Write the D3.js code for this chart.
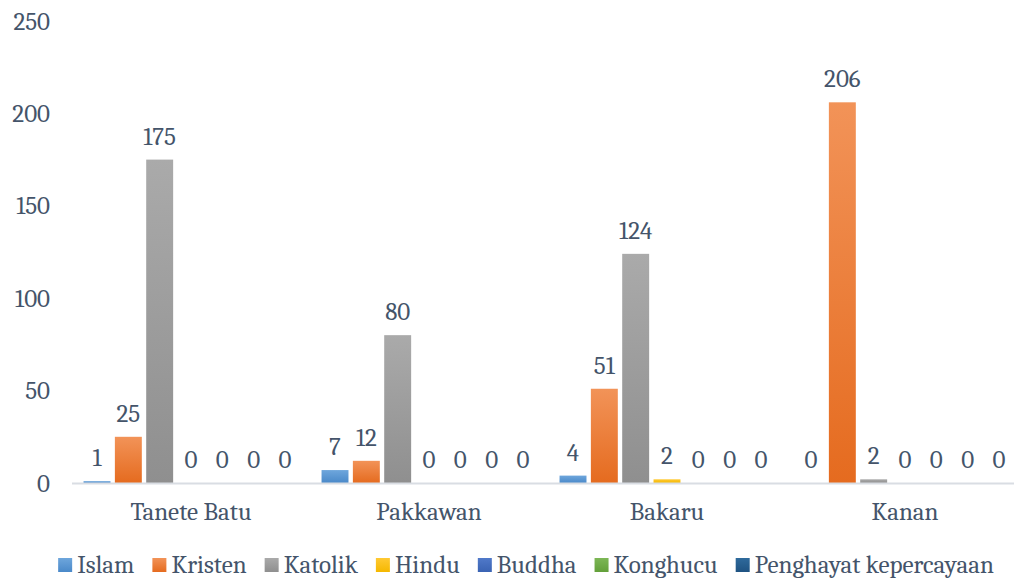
<!DOCTYPE html>
<html><head><meta charset="utf-8">
<script src="https://cdn.jsdelivr.net/npm/d3@7"></script>
<style>body{margin:0;background:#fff}svg{display:block}</style>
</head><body><svg id="c" width="1014" height="578"></svg>
<script>
const categories = ["Tanete Batu","Pakkawan","Bakaru","Kanan"];
const seriesNames = ["Islam","Kristen","Katolik","Hindu","Buddha","Konghucu","Penghayat kepercayaan"];
const islam = [1,7,4,0];
const kristen = [25,12,51,206];
const katolik = [175,80,124,2];
const hindu = [0,0,2,0];
const buddha = [0,0,0,0];
const konghucu = [0,0,0,0];
const penghayat = [0,0,0,0];
const yTicks = [0,50,100,150,200,250];
const seriesValues = [islam,kristen,katolik,hindu,buddha,konghucu,penghayat];
const colors = [["#6ea6dc","#4a89c9"],["#f29358","#e56b1f"],["#aaaaaa","#8f8f8f"],["#ffc933","#f5b800"],["#5079c9","#3a63b3"],["#7db756","#63a03a"],["#2f6a9c","#1f5382"]];
const FONT = 'Caladea, Cambria, "Liberation Serif", serif';
const FS = "25px";
const TC = "#44546A";

const svg = d3.select("#c");
const defs = svg.append("defs");
colors.forEach((c,i)=>{
  const g = defs.append("linearGradient").attr("id","g"+i).attr("x1",0).attr("y1",0).attr("x2",0).attr("y2",1);
  g.append("stop").attr("offset","0%").attr("stop-color",c[0]);
  g.append("stop").attr("offset","100%").attr("stop-color",c[1]);
});
function styleText(sel){ sel.style("font-family",FONT).style("font-size",FS).style("fill",TC); }

const y = d3.scaleLinear().domain([0,250]).range([483,21]);
const x0 = d3.scaleBand().domain(categories).range([72,1024]).paddingInner(0.097).paddingOuter(0.0485);
const x1 = d3.scaleBand().domain(seriesNames).range([0,x0.bandwidth()]).paddingInner(0.14);

const yAxis = d3.axisLeft(y).tickValues(yTicks).tickSize(0).tickPadding(0);
const ya = svg.append("g").attr("transform","translate(50,0)").call(yAxis);
ya.select(".domain").remove();
ya.selectAll("text").call(styleText);

const groups = svg.append("g").selectAll("g").data(categories).join("g")
  .attr("transform",d=>`translate(${x0(d)},0)`);
seriesNames.forEach((s,si)=>{
  groups.append("rect")
    .attr("x",x1(s)).attr("width",x1.bandwidth())
    .attr("y",(d,ci)=>y(seriesValues[si][ci]))
    .attr("height",(d,ci)=>y(0)-y(seriesValues[si][ci]))
    .attr("fill",`url(#g${si})`);
  groups.append("text")
    .attr("x",x1(s)+x1.bandwidth()/2)
    .attr("y",(d,ci)=>y(seriesValues[si][ci])-15)
    .attr("text-anchor","middle").call(styleText)
    .text((d,ci)=>seriesValues[si][ci]);
});

svg.append("line").attr("x1",72).attr("x2",1014).attr("y1",483.5).attr("y2",483.5)
  .attr("stroke","#d9dde3").attr("stroke-width",2);

const xAxis = d3.axisBottom(x0).tickSize(0).tickPadding(0);
const xa = svg.append("g").attr("transform","translate(0,502)").call(xAxis);
xa.select(".domain").remove();
xa.selectAll("text").call(styleText);

const leg = svg.append("g");
let cx = 0;
seriesNames.forEach((s,i)=>{
  const g = leg.append("g");
  g.append("rect").attr("x",cx).attr("y",-7).attr("width",14).attr("height",14).attr("fill",`url(#g${i})`);
  const t = g.append("text").attr("x",cx+19).attr("y",8).call(styleText).text(s);
  cx += 19 + t.node().getComputedTextLength() + 18;
});
const total = cx - 18;
leg.attr("transform",`translate(${526-total/2},565)`);
</script></body></html>
